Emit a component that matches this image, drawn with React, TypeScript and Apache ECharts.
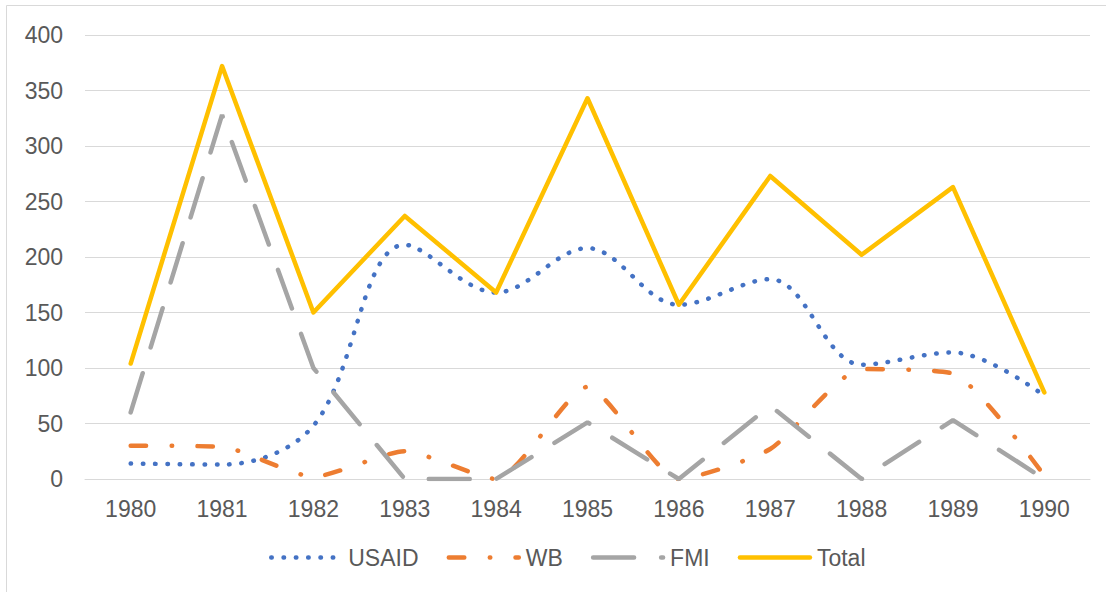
import React, { useEffect, useRef } from "react";
import * as echarts from "echarts";

const years = ["1980", "1981", "1982", "1983", "1984", "1985", "1986", "1987", "1988", "1989", "1990"];
const usaid = [14, 13, 48, 211, 168, 208, 157, 180, 103, 114, 75];
const wb = [30, 29, 2, 25, 0, 83, 0, 27, 99, 95, 3];
const fmi = [60, 328, 100, 0, 0, 51, 0, 66, 0, 53, 0];
const total = [104, 372, 150, 237, 168, 343, 157, 273, 202, 263, 78];

export default function App() {
  const ref = useRef<HTMLDivElement>(null);
  useEffect(() => {
    document.body.style.margin = "0";
    const chart = echarts.init(ref.current!, null, { renderer: "svg" });
    const font = "'Liberation Sans', Arial, sans-serif";
    chart.setOption({
      animation: false,
      backgroundColor: "#ffffff",
      textStyle: { fontFamily: font },
      grid: { left: 85, right: 16, top: 35, bottom: 113, containLabel: false },
      xAxis: {
        type: "category",
        data: years,
        boundaryGap: true,
        axisLine: { show: true, lineStyle: { color: "#d9d9d9", width: 1 } },
        axisTick: { show: false },
        axisLabel: { color: "#595959", fontSize: 23, margin: 18, fontFamily: font },
        splitLine: { show: false },
      },
      yAxis: {
        type: "value",
        min: 0,
        max: 400,
        interval: 50,
        axisLine: { show: false },
        axisTick: { show: false },
        axisLabel: { color: "#595959", fontSize: 23, margin: 22, fontFamily: font },
        splitLine: { lineStyle: { color: "#d9d9d9", width: 1 } },
      },
      legend: {
        top: 541,
        left: 264,
        itemWidth: 70,
        itemHeight: 12,
        itemGap: 28,
        itemStyle: { opacity: 0 },
        lineStyle: { width: 4.5, cap: "round" },
        textStyle: { color: "#595959", fontSize: 23, fontFamily: font, padding: [0, 0, 0, 2] },
        data: ["USAID", "WB", "FMI", "Total"],
      },
      graphic: [
        {
          type: "rect",
          shape: { x: 6.5, y: 5.5, width: 1300, height: 800 },
          style: { fill: "none", stroke: "#d9d9d9", lineWidth: 1 },
          silent: true,
          z: -10,
        },
      ],
      series: [
        {
          name: "USAID",
          type: "line",
          data: usaid,
          smooth: 0.35,
          symbol: "none",
          color: "#4472C4",
          lineStyle: { color: "#4472C4", width: 4.5, type: [0.5, 11.8], cap: "round" },
        },
        {
          name: "WB",
          type: "line",
          data: wb,
          smooth: 0.2,
          symbol: "none",
          color: "#ED7D31",
          lineStyle: { color: "#ED7D31", width: 4.5, type: [15.5, 25.5, 0.5, 25.2], cap: "round" },
        },
        {
          name: "FMI",
          type: "line",
          data: fmi,
          symbol: "none",
          color: "#A5A5A5",
          lineStyle: { color: "#A5A5A5", width: 4.5, type: [41, 27], cap: "round" },
        },
        {
          name: "Total",
          type: "line",
          data: total,
          symbol: "none",
          color: "#FFC000",
          lineStyle: { color: "#FFC000", width: 4.5, join: "round", cap: "round" },
        },
      ],
    });
    return () => chart.dispose();
  }, []);
  return <div ref={ref} style={{ width: 1106, height: 592 }} />;
}
